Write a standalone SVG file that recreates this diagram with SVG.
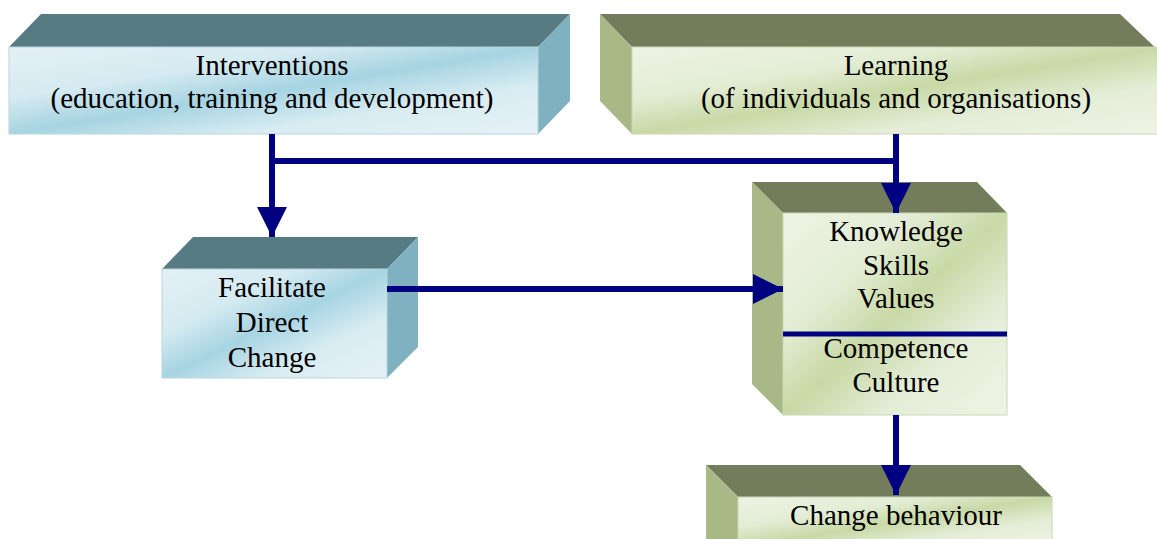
<svg xmlns="http://www.w3.org/2000/svg" width="1157" height="539" viewBox="0 0 1157 539">
  <defs>
    <linearGradient id="frontBlue" x1="0" y1="0" x2="1" y2="1">
      <stop offset="0" stop-color="#e4f1f5"/>
      <stop offset="0.3" stop-color="#d5eaf1"/>
      <stop offset="0.5" stop-color="#a6d4e2"/>
      <stop offset="0.72" stop-color="#d8ecf2"/>
      <stop offset="1" stop-color="#e6f2f6"/>
    </linearGradient>
    <linearGradient id="frontGreen" x1="0" y1="0" x2="1" y2="1">
      <stop offset="0" stop-color="#edf3e4"/>
      <stop offset="0.3" stop-color="#e3edd5"/>
      <stop offset="0.5" stop-color="#c8d9a6"/>
      <stop offset="0.72" stop-color="#e4edd7"/>
      <stop offset="1" stop-color="#eef4e6"/>
    </linearGradient>
    <marker id="arrow" viewBox="0 0 30 30" refX="30" refY="15" markerWidth="30" markerHeight="30" markerUnits="userSpaceOnUse" orient="auto">
      <path d="M0,0 L30,15 L0,30 Z" fill="#000080"/>
    </marker>
    <style>
      .topB { fill: #577b82; }
      .sideB { fill: #7fb1c1; }
      .frontB { fill: url(#frontBlue); stroke: #b7d6df; stroke-width: 1; }
      .topG { fill: #737d5c; }
      .sideG { fill: #a8b886; }
      .frontG { fill: url(#frontGreen); stroke: #cbd8b5; stroke-width: 1; }
      text { font-family: "Liberation Serif", "Times New Roman", serif; font-size: 29px; fill: #000; text-anchor: middle; }
      .wire { fill: none; stroke: #000080; stroke-width: 6; }
    </style>
  </defs>

  <rect width="1157" height="539" fill="#ffffff"/>

  <!-- Interventions block -->
  <g id="interventions">
    <polygon class="topB" points="9,47 41,14 570,14 538,47"/>
    <polygon class="sideB" points="538,47 570,14 570,101 538,134"/>
    <rect class="frontB" x="9" y="47" width="529" height="87"/>
    <text x="272" y="75">Interventions</text>
    <text x="272" y="108">(education, training and development)</text>
  </g>

  <!-- Learning block -->
  <g id="learning">
    <polygon class="topG" points="600,14 1120,14 1160,52 1160,47 632,47"/>
    <polygon class="sideG" points="600,14 632,47 632,134 600,101"/>
    <rect class="frontG" x="632" y="47" width="530" height="87"/>
    <text x="896" y="75">Learning</text>
    <text x="896" y="108">(of individuals and organisations)</text>
  </g>

  <!-- Facilitate direct change block -->
  <g id="facilitate">
    <polygon class="topB" points="162,269 193,237 418,237 387,269"/>
    <polygon class="sideB" points="387,269 418,237 418,347 387,378"/>
    <rect class="frontB" x="162" y="269" width="225" height="109"/>
    <text x="272" y="297">Facilitate</text>
    <text x="272" y="332">Direct</text>
    <text x="272" y="367">Change</text>
  </g>

  <!-- Knowledge / competence block -->
  <g id="knowledge">
    <polygon class="topG" points="752,182 977,182 1007,213 783,213"/>
    <polygon class="sideG" points="752,182 783,213 783,415 752,384"/>
    <rect class="frontG" x="783" y="213" width="224" height="202"/>
    <text x="896" y="241">Knowledge</text>
    <text x="896" y="275">Skills</text>
    <text x="896" y="308">Values</text>
    <line x1="783" y1="334" x2="1007" y2="334" stroke="#000080" stroke-width="5"/>
    <text x="896" y="358">Competence</text>
    <text x="896" y="392">Culture</text>
  </g>

  <!-- Change behaviour block -->
  <g id="behaviour">
    <polygon class="topG" points="706,465 1020,465 1052,497 738,497"/>
    <polygon class="sideG" points="706,465 738,497 738,545 706,545"/>
    <rect class="frontG" x="738" y="497" width="314" height="50"/>
    <text x="896" y="525">Change behaviour</text>
  </g>

  <!-- Connectors -->
  <g id="connectors">
    <line class="wire" x1="272" y1="134" x2="272" y2="237" marker-end="url(#arrow)"/>
    <line class="wire" x1="896" y1="134" x2="896" y2="213" marker-end="url(#arrow)"/>
    <line class="wire" x1="272" y1="161" x2="896" y2="161"/>
    <line class="wire" x1="387" y1="289" x2="783" y2="289" marker-end="url(#arrow)"/>
    <line class="wire" x1="896" y1="415" x2="896" y2="495" marker-end="url(#arrow)"/>
  </g>
</svg>
